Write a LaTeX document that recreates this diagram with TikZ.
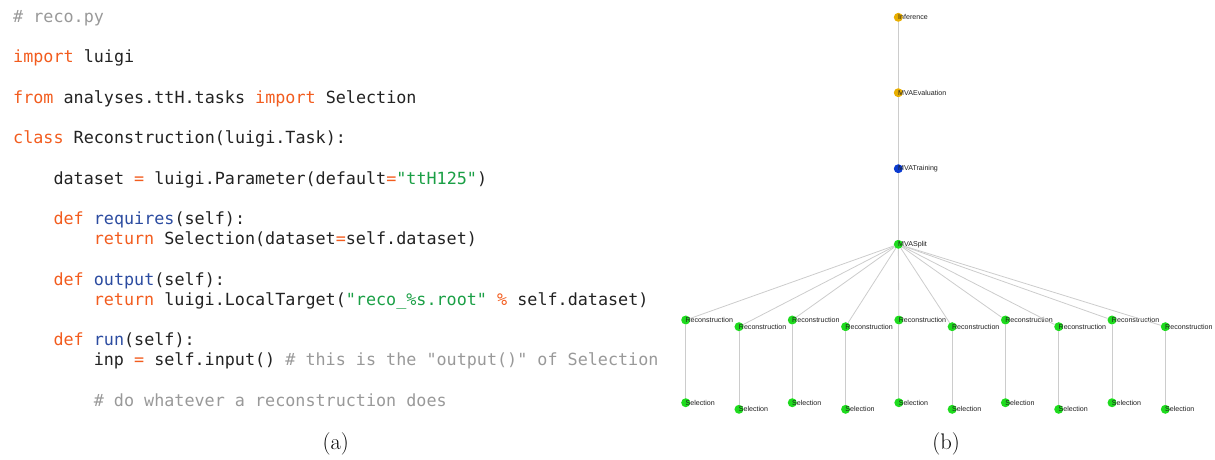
\documentclass[tikz,border=0pt]{standalone}
\usepackage{fontspec}
\setmonofont{DejaVu Sans Mono}
\newfontfamily\labfont{Liberation Sans}
\definecolor{kwor}{HTML}{F25C1E}
\definecolor{fnbl}{HTML}{2B4BA0}
\definecolor{strg}{HTML}{1A9F45}
\definecolor{cmgr}{HTML}{999999}
\definecolor{cblk}{HTML}{222222}
\definecolor{gold}{HTML}{E8AE00}
\definecolor{dotblue}{HTML}{0B3BD0}
\definecolor{dotgreen}{HTML}{1EDB1E}
\definecolor{edgegr}{HTML}{CCCCCC}
\newcommand\ckw[1]{\textcolor{kwor}{#1}}
\newcommand\cfn[1]{\textcolor{fnbl}{#1}}
\newcommand\cstr[1]{\textcolor{strg}{#1}}
\newcommand\ccm[1]{\textcolor{cmgr}{#1}}
\tikzset{
  codeline/.style={anchor=base west, inner sep=0pt, text=cblk, font=\fontsize{16.75}{20}\selectfont\ttfamily},
  gdot/.style={circle, inner sep=0pt, minimum size=9pt, draw=none},
  labtxt/.style={anchor=west, inner sep=0pt, xshift=-0.3pt, text=black!88, font=\labfont\fontsize{7.1}{8}\selectfont},
  gedge/.style={draw=edgegr, line width=0.8pt},
  caption/.style={anchor=base, inner sep=0pt, font=\fontsize{22.5}{26}\selectfont\rmfamily}
}
\begin{document}
\begin{tikzpicture}[x=1pt,y=-1pt]
\path[use as bounding box] (0,0) rectangle (1215,459);
% ---- code listing ----
\node[codeline] (l0) at (13,22.5) {\ccm{\# reco.py}};
\node[codeline] (l2) at (13,62.9) {\ckw{import} luigi};
\node[codeline] (l4) at (13,103.3) {\ckw{from} analyses.ttH.tasks \ckw{import} Selection};
\node[codeline] (l6) at (13,143.7) {\ckw{class} Reconstruction(luigi.Task):};
\node[codeline] (l8) at (53.3,184.1) {dataset \ckw{=} luigi.Parameter(default\ckw{=}\cstr{"ttH125"})};
\node[codeline] (l10) at (53.3,224.5) {\ckw{def} \cfn{requires}(self):};
\node[codeline] (l11) at (93.6,244.7) {\ckw{return} Selection(dataset\ckw{=}self.dataset)};
\node[codeline] (l13) at (53.3,285.1) {\ckw{def} \cfn{output}(self):};
\node[codeline] (l14) at (93.6,305.3) {\ckw{return} luigi.LocalTarget(\cstr{"reco\_\%s.root"} \ckw{\%} self.dataset)};
\node[codeline] (l16) at (53.3,345.7) {\ckw{def} \cfn{run}(self):};
\node[codeline] (l17) at (93.6,365.9) {inp \ckw{=} self.input() \ccm{\# this is the "output()" of Selection}};
\node[codeline] (l19) at (93.6,406.3) {\ccm{\# do whatever a reconstruction does}};
\node[caption] (capa) at (335.7,449.4) {(a)};
% ---- task graph ----
\node[gdot, fill=gold] (inf) at (898.3,17.3) {};
\node[gdot, fill=gold] (eval) at (898.3,92.7) {};
\node[gdot, fill=dotblue] (train) at (898.3,168.7) {};
\node[gdot, fill=dotgreen] (split) at (898.3,244.3) {};
\draw[gedge] (inf) -- (eval);
\draw[gedge] (eval) -- (train);
\draw[gedge] (train) -- (split);
\foreach \i in {0,...,9} {
  \pgfmathsetmacro\xx{685.7+53.29*\i}
  \pgfmathsetmacro\yr{mod(\i,2)==0 ? 320 : 326.7}
  \pgfmathsetmacro\ys{mod(\i,2)==0 ? 402.7 : 409.3}
  \node[gdot, fill=dotgreen] (r\i) at (\xx,\yr) {};
  \node[gdot, fill=dotgreen] (s\i) at (\xx,\ys) {};
  \draw[gedge] (split) -- (r\i);
  \draw[gedge] (r\i) -- (s\i);
  \node[labtxt] (rl\i) at (r\i.center) {Reconstruction};
  \node[labtxt] (sl\i) at (s\i.center) {Selection};
}
\node[labtxt] (infl) at (inf.center) {Inference};
\node[labtxt] (evall) at (eval.center) {MVAEvaluation};
\node[labtxt] (trainl) at (train.center) {MVATraining};
\node[labtxt] (splitl) at (split.center) {MVASplit};
\node[caption] (capb) at (946,449.4) {(b)};
\end{tikzpicture}
\end{document}
